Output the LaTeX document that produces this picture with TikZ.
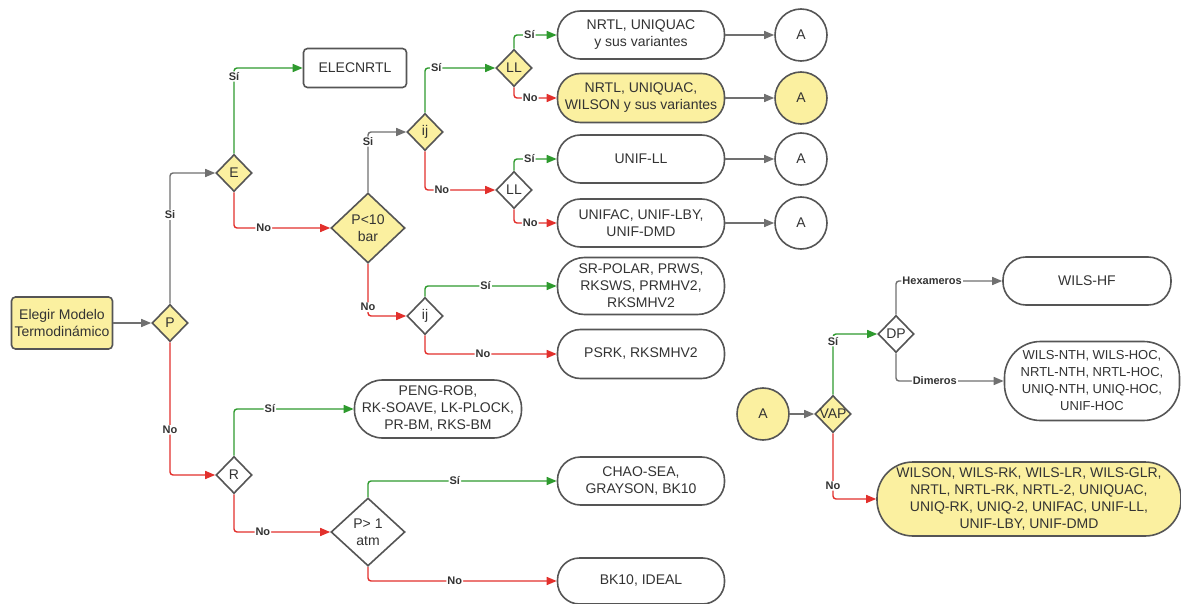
\documentclass[tikz,border=0pt]{standalone}
\usepackage{fontspec}
\setmainfont{Liberation Sans}
\usetikzlibrary{shapes.geometric,arrows.meta}

\definecolor{ylw}{HTML}{FBF0A0}
\definecolor{border}{HTML}{555555}
\definecolor{gline}{HTML}{707070}
\definecolor{okline}{HTML}{2E9A2E}
\definecolor{noline}{HTML}{E2302C}
\definecolor{ink}{HTML}{333333}

\begin{document}
\begin{tikzpicture}[x=1pt,y=-1pt,
  every node/.style={font=\fontsize{14}{17}\selectfont, text=ink},
  dec/.style={diamond, draw=border, line width=1.6pt, inner sep=0pt,
    minimum width=36, minimum height=37, fill=#1, align=center},
  dec/.default=white,
  pill/.style={rectangle, draw=border, line width=1.6pt, inner sep=0pt,
    align=center, minimum width=167, fill=#1},
  pill/.default=white,
  term/.style={circle, draw=border, line width=1.6pt, inner sep=0pt,
    minimum size=52, fill=#1},
  term/.default=white,
  link/.style={line width=1.4pt, rounded corners=3,
    -{Triangle[length=10pt,width=8pt]}},
  gray link/.style={link, draw=gline},
  yes link/.style={link, draw=okline},
  no link/.style={link, draw=noline},
  lbl/.style={font=\fontsize{11}{12}\bfseries\selectfont, fill=white,
    inner sep=1pt, text=ink},
]
\useasboundingbox (0,0) rectangle (1181,604);

% ---- nodes: left part
\node[pill=ylw, rounded corners=4, minimum width=101, minimum height=52]
  (start) at (62,323) {Elegir Modelo\\Termodinámico};
\node[dec=ylw] (P) at (170,323) {P};
\node[dec=ylw] (E) at (234,173) {E};
\node[pill, rounded corners=4, minimum width=103, minimum height=39]
  (elec) at (355,68) {ELECNRTL};
\node[dec=ylw, minimum width=74, minimum height=70] (p10) at (368,228) {P<10\\bar};
\node[dec=ylw] (ij1) at (425,132) {ij};
\node[dec=ylw] (ll1) at (514,68) {LL};
\node[dec] (ll2) at (514,190) {LL};
\node[dec] (ij2) at (425,316) {ij};
\node[dec] (R) at (234,475) {R};
\node[dec, minimum width=74, minimum height=68] (p1) at (368,532) {P> 1\\atm};

% ---- result boxes
\node[pill, minimum height=48, rounded corners=23] (b1) at (641,35)
  {NRTL, UNIQUAC\\y sus variantes};
\node[pill=ylw, minimum height=49, rounded corners=23] (b2) at (641,98)
  {NRTL, UNIQUAC,\\WILSON y sus variantes};
\node[pill, minimum height=48, rounded corners=23] (b3) at (641,159) {UNIF-LL};
\node[pill, minimum height=48, rounded corners=23] (b4) at (641,223)
  {UNIFAC, UNIF-LBY,\\UNIF-DMD};
\node[pill, minimum height=57, rounded corners=27] (b5) at (641,286)
  {SR-POLAR, PRWS,\\RKSWS, PRMHV2,\\RKSMHV2};
\node[pill, minimum height=49, rounded corners=23] (b6) at (641,354) {PSRK, RKSMHV2};
\node[pill, minimum height=58, rounded corners=28] (b7) at (438,409)
  {PENG-ROB,\\RK-SOAVE, LK-PLOCK,\\PR-BM, RKS-BM};
\node[pill, minimum height=48, rounded corners=23] (b8) at (641,481)
  {CHAO-SEA,\\GRAYSON, BK10};
\node[pill, minimum height=46, rounded corners=22] (b9) at (641,581) {BK10, IDEAL};

% ---- connectors A
\node[term] (a1) at (801,35) {A};
\node[term=ylw] (a2) at (801,98) {A};
\node[term] (a3) at (801,159) {A};
\node[term] (a4) at (801,223) {A};

% ---- right part
\node[term=ylw] (a0) at (763,414) {A};
\node[dec=ylw] (vap) at (833,414) {\makebox[0pt]{VAP}};
\node[dec] (dp) at (896,334) {DP};
\node[pill, minimum width=168, minimum height=48, rounded corners=23]
  (hf) at (1087,281) {WILS-HF};
\node[pill, minimum width=175, minimum height=79, rounded corners=36,
  font=\fontsize{13}{17}\selectfont] (nth) at (1092,381)
  {WILS-NTH, WILS-HOC,\\NRTL-NTH, NRTL-HOC,\\UNIQ-NTH, UNIQ-HOC,\\UNIF-HOC};
\node[pill=ylw, minimum width=304, minimum height=74, rounded corners=36]
  (all) at (1029,499)
  {WILSON, WILS-RK, WILS-LR, WILS-GLR,\\NRTL, NRTL-RK, NRTL-2, UNIQUAC,\\UNIQ-RK, UNIQ-2, UNIFAC, UNIF-LL,\\UNIF-LBY, UNIF-DMD};

% ---- links
\draw[gray link] (start) -- (P);
\draw[gray link] (P.north) |- node[lbl,pos=.34]{Si} (E.west);
\draw[no link] (P.south) |- node[lbl,pos=.33]{No} (R.west);
\draw[yes link] (E.north) |- node[lbl,pos=.45]{Sí} (elec.west);
\draw[no link] (E.south) |- node[lbl,pos=.655]{No} (p10.west);
\draw[gray link] (p10.north) |- node[lbl,pos=.42]{Si} (ij1.west);
\draw[no link] (p10.south) |- node[lbl,pos=.415]{No} (ij2.west);
\draw[yes link] (ij1.north) |- node[lbl,pos=.58]{Sí} (ll1.west);
\draw[no link] (ij1.south) |- node[lbl,pos=.62]{No} (ll2.west);
\draw[yes link] (ll1.north) |- node[lbl,pos=.68]{Sí} (b1.west);
\draw[no link] (ll1.south) |- node[lbl,pos=.69]{No} (b2.west);
\draw[yes link] (ll2.north) |- node[lbl,pos=.68]{Sí} (b3.west);
\draw[no link] (ll2.south) |- node[lbl,pos=.69]{No} (b4.west);
\draw[yes link] (ij2.north) |- node[lbl,pos=.73]{Sí} (b5.west);
\draw[no link] (ij2.south) |- node[lbl,pos=.72]{No} (b6.west);
\draw[yes link] (R.north) |- node[lbl,pos=.65]{Sí} (b7.west);
\draw[no link] (R.south) |- node[lbl,pos=.65]{No} (p1.west);
\draw[yes link] (p1.north) |- node[lbl,pos=.73]{Sí} (b8.west);
\draw[no link] (p1.south) |- node[lbl,pos=.73]{No} (b9.west);
\draw[gray link] (b1) -- (a1);
\draw[gray link] (b2) -- (a2);
\draw[gray link] (b3) -- (a3);
\draw[gray link] (b4) -- (a4);
\draw[gray link] (a0) -- (vap);
\draw[yes link] (vap.north) |- node[lbl,pos=.44]{Sí} (dp.west);
\draw[no link] (vap.south) |- node[lbl,pos=.4]{No} (all.west);
\draw[gray link] (dp.north) |- node[lbl,pos=.67]{Hexameros} (hf.west);
\draw[gray link] (dp.south) |- node[lbl,pos=.68]{Dimeros} (nth.west);
\end{tikzpicture}
\end{document}
